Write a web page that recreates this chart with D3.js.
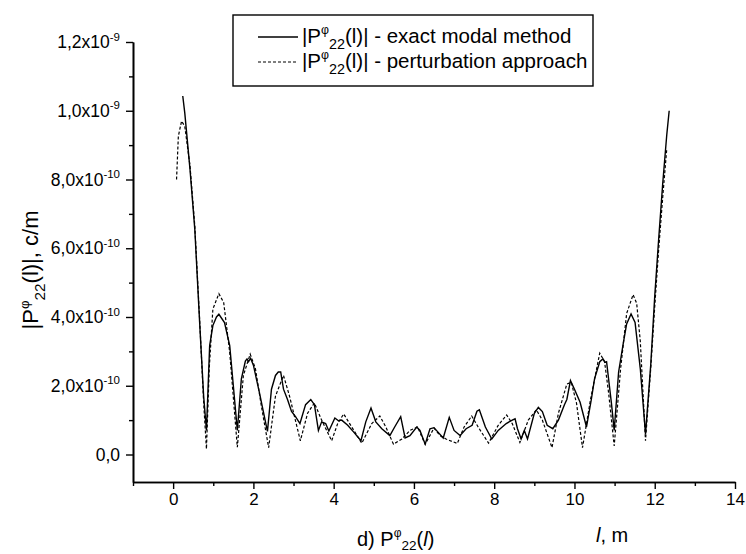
<!DOCTYPE html>
<html>
<head>
<meta charset="utf-8">
<script src="https://cdn.jsdelivr.net/npm/d3@7"></script>
<style>
  body { margin: 0; background: #fff; }
  text { font-family: "Liberation Sans", Arial, sans-serif; fill: #000; }
</style>
</head>
<body>
<div id="chart"></div>
<script>
// l in metres, |P| in units of 1e-10 c/m
var lExact = [0.24,0.29,0.42,0.54,0.66,0.76,0.83,0.91,0.99,1.08,1.14,1.28,1.41,1.6,1.7,1.8,1.84,1.88,1.93,2.0,2.15,2.35,2.45,2.55,2.62,2.68,2.75,2.85,2.95,3.05,3.16,3.3,3.43,3.52,3.62,3.7,3.8,3.88,4.03,4.12,4.2,4.35,4.5,4.68,4.8,4.93,5.05,5.2,5.4,5.52,5.67,5.78,5.9,6.07,6.15,6.28,6.4,6.5,6.6,6.73,6.88,7.0,7.15,7.3,7.45,7.57,7.63,7.78,7.94,8.1,8.3,8.45,8.52,8.58,8.67,8.75,8.83,9.0,9.1,9.2,9.32,9.46,9.6,9.75,9.81,9.9,10.0,10.14,10.3,10.42,10.5,10.63,10.71,10.76,10.8,10.92,10.99,11.1,11.22,11.3,11.41,11.51,11.64,11.77,11.9,12.0,12.1,12.2,12.3,12.36];
var pExact = [10.43,9.94,8.3,6.55,3.85,1.7,0.7,3.17,3.75,4.0,4.08,3.84,3.17,0.7,2.2,2.72,2.78,2.7,2.8,2.6,1.8,0.67,1.9,2.3,2.4,2.4,1.9,1.6,1.25,1.1,0.9,1.45,1.6,1.45,0.7,0.95,0.9,0.68,1.06,0.98,1.0,0.85,0.65,0.4,0.95,1.35,0.95,0.75,0.55,0.8,1.1,0.48,0.55,0.8,0.7,0.3,0.75,0.78,0.65,0.48,1.08,0.7,0.55,0.75,0.85,1.26,1.3,0.8,0.45,0.7,0.9,1.0,1.04,0.75,0.45,0.7,0.45,1.2,1.37,1.25,0.85,0.75,1.0,1.45,1.6,2.15,1.9,1.52,0.8,1.6,2.2,2.7,2.78,2.68,2.7,1.5,0.7,2.4,3.26,3.8,4.09,3.84,2.5,0.6,2.6,4.6,6.3,7.9,9.3,10.0];

var lPert = [0.085,0.13,0.21,0.29,0.42,0.54,0.66,0.76,0.83,0.9,0.99,1.14,1.26,1.41,1.6,1.75,1.92,2.05,2.2,2.38,2.55,2.75,2.9,3.17,3.35,3.52,3.7,3.95,4.1,4.25,4.45,4.7,4.95,5.15,5.3,5.49,5.7,5.9,6.09,6.28,6.5,6.65,6.8,7.08,7.25,7.44,7.6,7.86,8.1,8.31,8.45,8.64,8.85,9.05,9.2,9.44,9.6,9.81,9.92,10.05,10.2,10.4,10.63,10.75,10.85,10.99,11.15,11.3,11.46,11.55,11.64,11.77,11.9,12.0,12.1,12.2,12.3];
var pPert = [8.0,9.26,9.7,9.55,8.4,6.65,3.94,1.52,0.16,2.5,4.23,4.68,4.42,2.97,0.21,2.3,2.92,2.5,1.4,0.2,1.7,2.3,1.7,0.4,1.2,1.5,1.0,0.4,0.9,1.18,0.8,0.33,0.9,1.12,0.8,0.3,0.45,0.7,0.8,0.3,0.77,0.55,0.45,0.32,0.8,1.12,0.8,0.33,0.85,1.15,0.9,0.35,1.0,1.3,1.0,0.2,1.2,2.05,2.1,1.5,0.2,1.6,2.95,2.7,1.8,0.25,2.5,4.1,4.65,4.4,3.3,0.4,2.5,4.3,6.0,7.5,8.9];

var xMajor = [0,2,4,6,8,10,12,14];
var xMinor = [-1,1,3,5,7,9,11,13];
var yMajor = [0,2,4,6,8,10,12];
var yMinor = [1,3,5,7,9,11];
var yMant = ["0,0","2,0","4,0","6,0","8,0","1,0","1,2"];
var yExp = ["","-10","-10","-10","-10","-9","-9"];

var W = 746, H = 554;
var svg = d3.select("#chart").append("svg")
    .attr("width", W).attr("height", H);
svg.append("rect").attr("width", W).attr("height", H).attr("fill", "#fff");

var x = d3.scaleLinear().domain([-1, 14]).range([133, 735]);
var y = d3.scaleLinear().domain([-0.8, 12]).range([482, 42]);

// axes
var gx = svg.append("g").attr("transform", "translate(0," + y(-0.8) + ")");
gx.call(d3.axisBottom(x).tickValues(xMajor).tickSize(7).tickSizeOuter(0).tickPadding(4).tickFormat(function (d) { return d; }));
gx.append("g").call(d3.axisBottom(x).tickValues(xMinor).tickSize(4).tickSizeOuter(0).tickFormat(""));

var gy = svg.append("g").attr("transform", "translate(" + x(-1) + ",0)");
gy.call(d3.axisLeft(y).tickValues(yMajor).tickSize(7).tickSizeOuter(0).tickFormat(""));
gy.append("g").call(d3.axisLeft(y).tickValues(yMinor).tickSize(4).tickSizeOuter(0).tickFormat(""));

svg.selectAll(".domain").attr("stroke", "#000").attr("stroke-width", 1.6);
svg.selectAll(".tick line").attr("stroke", "#000").attr("stroke-width", 1.4);
gx.selectAll(".tick text").attr("font-size", 17).attr("font-family", "Liberation Sans, Arial, sans-serif").attr("fill", "#000");

// y tick labels with exponent
yMajor.forEach(function (v, i) {
  var t = svg.append("text")
      .attr("x", 120).attr("y", y(v) + 6)
      .attr("text-anchor", "end")
      .attr("font-size", 17.5);
  t.append("tspan").text(yMant[i] + (yExp[i] ? "x10" : ""));
  if (yExp[i]) {
    t.append("tspan").attr("font-size", 11.5).attr("dy", -7.5).text(yExp[i]);
  }
});

// curves
var line = d3.line()
    .x(function (d) { return x(d[0]); })
    .y(function (d) { return y(d[1]); });

svg.append("path")
    .datum(d3.zip(lPert, pPert))
    .attr("d", line)
    .attr("fill", "none").attr("stroke", "#000")
    .attr("stroke-width", 1.2).attr("stroke-dasharray", "3,2");

svg.append("path")
    .datum(d3.zip(lExact, pExact))
    .attr("d", line)
    .attr("fill", "none").attr("stroke", "#000")
    .attr("stroke-width", 1.4);

// |P^φ_22(l)| label
function pLabel(t, rest, size) {
  t.append("tspan").text("|P");
  t.append("tspan").attr("font-size", size * 0.6).attr("dy", -size * 0.42).text("φ");
  t.append("tspan").attr("font-size", size * 0.7).attr("dy", size * 0.72).text("22");
  t.append("tspan").attr("dy", -size * 0.3).text("(l)|" + rest);
}

// legend
svg.append("rect")
    .attr("x", 233).attr("y", 15).attr("width", 360).attr("height", 71)
    .attr("fill", "#fff").attr("stroke", "#000").attr("stroke-width", 1.4);
svg.append("line").attr("x1", 258).attr("x2", 298).attr("y1", 37).attr("y2", 37)
    .attr("stroke", "#000").attr("stroke-width", 1.4);
svg.append("line").attr("x1", 258).attr("x2", 298).attr("y1", 62).attr("y2", 62)
    .attr("stroke", "#000").attr("stroke-width", 1.2).attr("stroke-dasharray", "3,2");
pLabel(svg.append("text").attr("x", 302).attr("y", 43).attr("font-size", 20.5), " - exact modal method", 20.5);
pLabel(svg.append("text").attr("x", 302).attr("y", 68).attr("font-size", 20.5), " - perturbation approach", 20.5);

// y title
var yt = svg.append("text")
    .attr("transform", "translate(38,270) rotate(-90)")
    .attr("text-anchor", "middle")
    .attr("font-size", 22);
pLabel(yt, ", c/m", 22);

// x title
var xt = svg.append("text").attr("x", 596).attr("y", 542).attr("font-size", 20);
xt.append("tspan").attr("font-style", "italic").text("l");
xt.append("tspan").text(", m");

// caption
var cap = svg.append("text").attr("x", 357).attr("y", 546).attr("font-size", 20);
cap.append("tspan").text("d) P");
cap.append("tspan").attr("font-size", 12).attr("dy", -9).text("φ");
cap.append("tspan").attr("font-size", 13.5).attr("dy", 13).text("22");
cap.append("tspan").attr("dy", -4).text("(");
cap.append("tspan").attr("font-style", "italic").text("l");
cap.append("tspan").text(")");
</script>
</body>
</html>
